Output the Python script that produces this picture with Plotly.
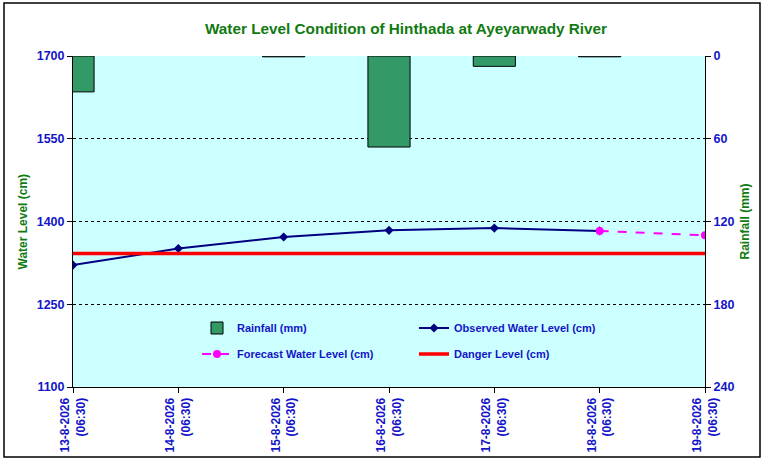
import plotly.graph_objects as go

# ---- data ----
dates = ["13-8-2026<br>(06:30)", "14-8-2026<br>(06:30)", "15-8-2026<br>(06:30)",
         "16-8-2026<br>(06:30)", "17-8-2026<br>(06:30)", "18-8-2026<br>(06:30)",
         "19-8-2026<br>(06:30)"]
x_pos = [0, 1, 2, 3, 4, 5, 6]
rainfall = [26, None, 0.6, 66, 7.5, 0.6, None]
observed_x = [0, 1, 2, 3, 4, 5]
observed = [1321, 1351, 1372, 1384, 1388, 1383]
forecast_x = [5, 6]
forecast = [1383, 1375]
danger = [1342, 1342, 1342, 1342, 1342, 1342, 1342]
wl_ticks = [1100, 1250, 1400, 1550, 1700]
rf_ticks = [0, 60, 120, 180, 240]

BLUE = "#1414C8"
GREEN = "#117A11"
ARIAL = "Liberation Sans, Arial, sans-serif"

fig = go.Figure()
fig.add_trace(go.Bar(x=x_pos, y=rainfall, yaxis="y2", width=0.4,
                     marker=dict(color="#339966", line=dict(color="black", width=1)),
                     name="Rainfall (mm)", legend="legend"))
fig.add_trace(go.Scatter(x=observed_x, y=observed, mode="lines+markers",
                         line=dict(color="#000080", width=2),
                         marker=dict(symbol="diamond", size=7, color="#000080"),
                         name="Observed Water Level (cm)", legend="legend"))
fig.add_trace(go.Scatter(x=forecast_x, y=forecast, mode="lines+markers",
                         line=dict(color="#FF00FF", width=2, dash="dash"),
                         marker=dict(symbol="circle", size=8, color="#FF00FF"),
                         name="Forecast Water Level (cm)", legend="legend2"))
fig.add_trace(go.Scatter(x=x_pos, y=danger, mode="lines",
                         line=dict(color="#FF0000", width=3.5),
                         name="Danger Level (cm)", legend="legend2"))

L, R, T, B = 73, 60, 56, 77
W, H = 765, 464
pw, ph = W - L - R, H - T - B

legend_common = dict(orientation="h", xanchor="left", yanchor="middle",
                     bgcolor="rgba(0,0,0,0)", entrywidth=172,
                     font=dict(family=ARIAL, size=11, color=BLUE, weight="bold"))

fig.update_layout(
    width=W, height=H,
    margin=dict(l=L, r=R, t=T, b=B),
    paper_bgcolor="white",
    plot_bgcolor="#CCFFFF",
    title=dict(text="<b>Water Level Condition of Hinthada at Ayeyarwady River</b>",
               x=406 / W, y=1 - 29 / H, xanchor="center", yanchor="middle",
               xref="container", yref="container",
               font=dict(family=ARIAL, size=15.3, color=GREEN)),
    xaxis=dict(range=[0, 6], tickvals=x_pos, ticktext=dates, tickangle=-90,
               showgrid=False, zeroline=False, showline=True, linecolor="black",
               linewidth=1, ticks="outside", ticklen=5, tickcolor="black",
               tickfont=dict(family=ARIAL, size=12, color=BLUE, weight="bold")),
    yaxis=dict(range=[1100, 1700], tickvals=wl_ticks, showgrid=True,
               gridcolor="black", griddash="dot", gridwidth=1, zeroline=False,
               showline=True, linecolor="black", linewidth=1, ticks="outside",
               ticklen=5, tickcolor="black",
               tickfont=dict(family=ARIAL, size=12.5, color=BLUE, weight="bold")),
    yaxis2=dict(range=[240, 0], tickvals=rf_ticks, overlaying="y", side="right",
                showgrid=False, zeroline=False, showline=True, linecolor="black",
                linewidth=1, ticks="outside", ticklen=5, tickcolor="black",
                tickfont=dict(family=ARIAL, size=12.5, color=BLUE, weight="bold")),
    legend=dict(x=(197 - L) / pw, y=(H - B - 328) / ph, **legend_common),
    legend2=dict(x=(197 - L) / pw, y=(H - B - 354) / ph, **legend_common),
    showlegend=True,
    annotations=[
        dict(text="<b>Water Level (cm)</b>", textangle=-90, xref="paper", yref="paper",
             x=(22 - L) / pw, y=0.5, showarrow=False, xanchor="center", yanchor="middle",
             font=dict(family=ARIAL, size=12, color=GREEN)),
        dict(text="<b>Rainfall (mm)</b>", textangle=-90, xref="paper", yref="paper",
             x=(744 - L) / pw, y=0.5, showarrow=False, xanchor="center", yanchor="middle",
             font=dict(family=ARIAL, size=12, color=GREEN)),
    ],
    shapes=[
        dict(type="rect", xref="paper", yref="paper",
             x0=(4 - L) / pw, x1=(760 - L) / pw,
             y0=(H - B - 457) / ph, y1=(H - B - 3) / ph,
             line=dict(color="black", width=1.5), layer="below"),
    ],
)

fig.write_html("out.html", config={"displayModeBar": False},
               post_script="document.body.style.margin='0px';")
